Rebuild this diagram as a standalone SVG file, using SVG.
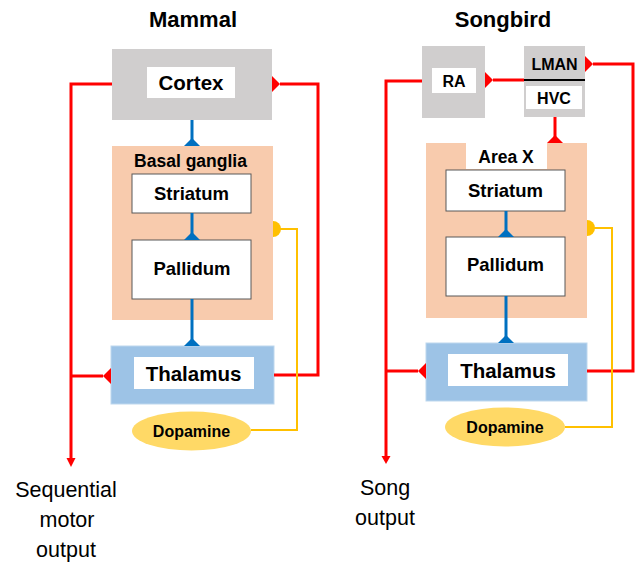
<svg xmlns="http://www.w3.org/2000/svg" width="636" height="562" viewBox="0 0 636 562">
<style>
text{font-family:"Liberation Sans",Arial,sans-serif;text-anchor:middle;fill:#000}
.b{font-weight:bold}
.title{font-size:22px;font-weight:bold}
.gray{fill:#d0cece}
.peach{fill:#f8cbad}
.thal{fill:#9dc3e6;stroke:#bdd7ee;stroke-width:1}
.white{fill:#fff}
.box{fill:#fff;stroke:#595959;stroke-width:1}
.dopa{fill:#ffd966}
.red{fill:none;stroke:#ff0000;stroke-width:3}
.blue{fill:none;stroke:#0070c0;stroke-width:3}
.yel{fill:none;stroke:#ffc000;stroke-width:2}
.rh{fill:#ff0000}
.bh{fill:#0070c0}
.yh{fill:#ffc000}
.out{font-size:21.5px}
</style>
<rect width="636" height="562" fill="#fff"/>
<text class="title" x="193" y="27">Mammal</text>
<text class="title" x="503" y="27">Songbird</text>

<g id="m-cortex">
<rect class="gray" x="112" y="49" width="160" height="71"/>
<rect class="white" x="147" y="67" width="88" height="31"/>
<text class="b" x="191" y="90" font-size="20.5">Cortex</text>
</g>
<g id="m-basal-ganglia">
<rect class="peach" x="112" y="146" width="161" height="174"/>
<text class="b" x="190.5" y="166.5" font-size="17.5">Basal ganglia</text>
</g>
<g id="m-striatum">
<rect class="box" x="132" y="174" width="119" height="39"/>
<text class="b" x="191.5" y="200" font-size="18.5">Striatum</text>
</g>
<g id="m-pallidum">
<rect class="box" x="132" y="240" width="119" height="59"/>
<text class="b" x="192" y="274.5" font-size="18.5">Pallidum</text>
</g>
<g id="m-thalamus">
<rect class="thal" x="111" y="346" width="163" height="58"/>
<rect class="white" x="134" y="357" width="120" height="32"/>
<text class="b" x="193.5" y="381" font-size="20.5">Thalamus</text>
</g>
<g id="m-dopamine">
<ellipse class="dopa" cx="191.5" cy="431" rx="59.5" ry="19.5"/>
<text class="b" x="191.5" y="437" font-size="16">Dopamine</text>
</g>
<g id="m-output">
<text class="out" x="66" y="497">Sequential</text>
<text class="out" x="67" y="527">motor</text>
<text class="out" x="66" y="557">output</text>
</g>

<g id="s-ra">
<rect class="gray" x="422" y="46" width="63" height="72"/>
<rect class="white" x="432" y="68" width="44" height="25"/>
<text class="b" x="454" y="87" font-size="16">RA</text>
</g>
<g id="s-lman-hvc">
<rect class="gray" x="524" y="46" width="61" height="71"/>
<line x1="524" y1="80" x2="585" y2="80" stroke="#000" stroke-width="2"/>
<text class="b" x="554.5" y="70" font-size="16">LMAN</text>
<rect class="white" x="526" y="86" width="56" height="23"/>
<text class="b" x="554" y="104" font-size="16">HVC</text>
</g>
<g id="s-area-x">
<rect class="peach" x="426" y="143" width="161" height="175"/>
<rect class="white" x="466" y="143" width="81" height="26"/>
<text class="b" x="506" y="163" font-size="17.5">Area X</text>
</g>
<g id="s-striatum">
<rect class="box" x="446" y="170" width="119" height="41"/>
<text class="b" x="505.5" y="197" font-size="18.5">Striatum</text>
</g>
<g id="s-pallidum">
<rect class="box" x="446" y="237" width="119" height="59"/>
<text class="b" x="505.5" y="271" font-size="18.5">Pallidum</text>
</g>
<g id="s-thalamus">
<rect class="thal" x="426" y="343" width="161" height="58"/>
<rect class="white" x="448" y="354" width="120" height="32"/>
<text class="b" x="508" y="378" font-size="20.5">Thalamus</text>
</g>
<g id="s-dopamine">
<ellipse class="dopa" cx="505" cy="427" rx="60" ry="19.5"/>
<text class="b" x="505" y="433" font-size="16">Dopamine</text>
</g>
<g id="s-output">
<text class="out" x="385" y="495">Song</text>
<text class="out" x="385" y="525">output</text>
</g>

<g id="connectors">
<!-- mammal -->
<polyline class="red" points="112,84 71,84 71,460"/>
<polygon class="rh" points="66.5,458 75.5,458 71,467"/>
<polyline class="red" points="274,375 318,375 318,84 280,84"/>
<polygon class="rh" points="272,76 272,92 280,84"/>
<line class="red" x1="103" y1="376" x2="71" y2="376"/>
<polygon class="rh" points="111,368 111,384 103,376"/>
<line class="blue" x1="192" y1="120" x2="192" y2="146"/>
<polygon class="bh" points="184,146 200,146 192,138"/>
<line class="blue" x1="192" y1="213" x2="192" y2="240"/>
<polygon class="bh" points="184,240 200,240 192,232"/>
<line class="blue" x1="192" y1="299" x2="192" y2="346"/>
<polygon class="bh" points="184,346 200,346 192,338"/>
<polyline class="yel" points="273,229 297,229 297,430 251,430"/>
<path class="yh" d="M273,221 A8,8 0 0 1 273,237 Z"/>
<!-- songbird -->
<polyline class="red" points="422,81 386,81 386,458"/>
<polygon class="rh" points="381.5,456 390.5,456 386,464"/>
<line class="red" x1="493" y1="80" x2="524" y2="80"/>
<polygon class="rh" points="485,72 485,88 493,80"/>
<polyline class="red" points="587,371 633,371 633,64 593,64"/>
<polygon class="rh" points="585,56 585,72 593,64"/>
<line class="red" x1="418" y1="371" x2="386" y2="371"/>
<polygon class="rh" points="426,363 426,379 418,371"/>
<line class="red" x1="555" y1="117" x2="555" y2="143"/>
<polygon class="rh" points="547,143 563,143 555,135"/>
<line class="blue" x1="506" y1="211" x2="506" y2="237"/>
<polygon class="bh" points="498,237 514,237 506,229"/>
<line class="blue" x1="506" y1="296" x2="506" y2="343"/>
<polygon class="bh" points="498,343 514,343 506,335"/>
<polyline class="yel" points="587,228 612,228 612,427 565,427"/>
<path class="yh" d="M587,220 A8,8 0 0 1 587,236 Z"/>
</g>
</svg>
